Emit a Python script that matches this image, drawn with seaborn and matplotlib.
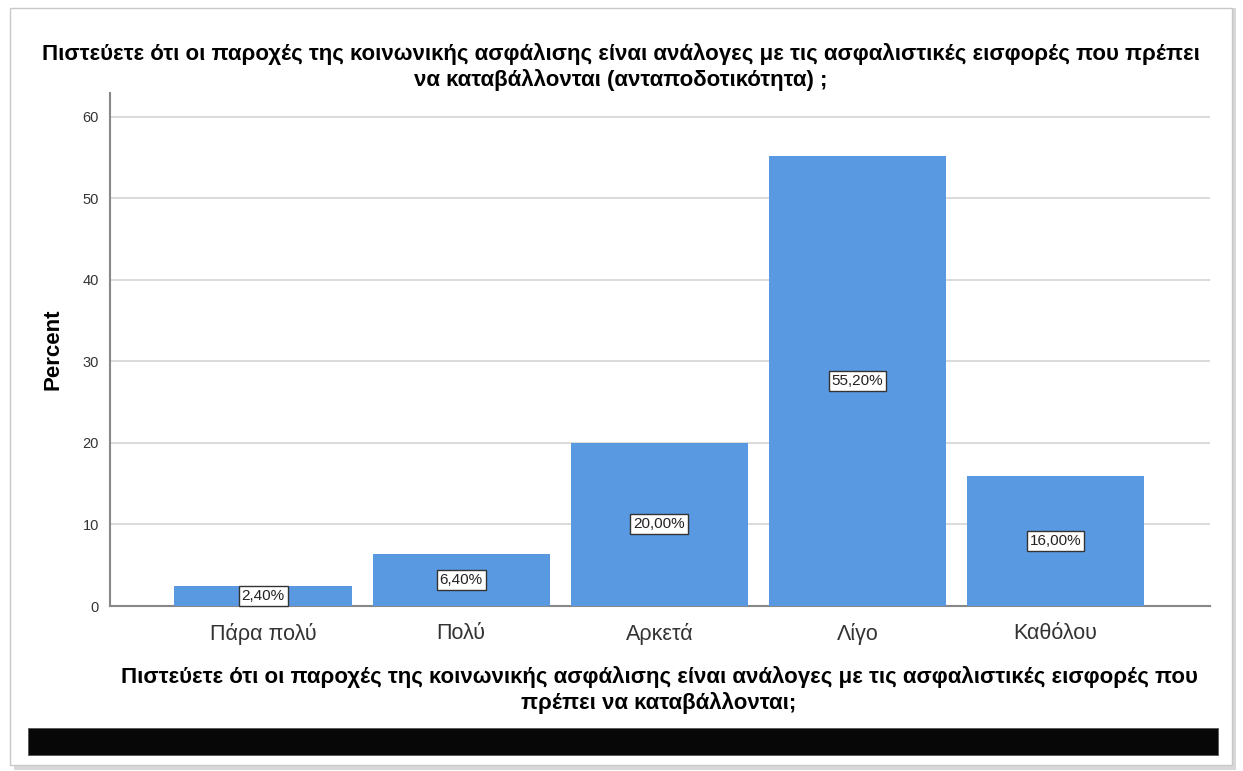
import matplotlib
matplotlib.use("Agg")
import matplotlib.pyplot as plt
import pandas as pd
import seaborn as sns
from matplotlib.patches import Rectangle

# data
categories = ["Πάρα πολύ", "Πολύ", "Αρκετά", "Λίγο", "Καθόλου"]
percents = [2.40, 6.40, 20.00, 55.20, 16.00]
y_ticks = [0, 10, 20, 30, 40, 50, 60]

title = ("Πιστεύετε ότι οι παροχές της κοινωνικής ασφάλισης είναι ανάλογες με τις ασφαλιστικές εισφορές που πρέπει\n"
         "να καταβάλλονται (ανταποδοτικότητα) ;")
x_label = ("Πιστεύετε ότι οι παροχές της κοινωνικής ασφάλισης είναι ανάλογες με τις ασφαλιστικές εισφορές που\n"
           "πρέπει να καταβάλλονται;")

df = pd.DataFrame({"category": categories, "percent": percents})

sns.set_theme(style="white")
plt.rcParams["font.family"] = ["Liberation Sans", "DejaVu Sans"]

W, H = 1243, 771
fig = plt.figure(figsize=(W / 100, H / 100), dpi=100)
fig.patch.set_facecolor("white")

# panel frame with a soft shadow
fig.patches.append(Rectangle((14 / W, 1 - 770 / H), 1222 / W, 762 / H, transform=fig.transFigure,
                             facecolor="#d8d8d8", edgecolor="none", zorder=-2))
fig.patches.append(Rectangle((10 / W, 1 - 765 / H), 1222 / W, 757 / H, transform=fig.transFigure,
                             facecolor="white", edgecolor="#c8c8c8", lw=1.0, zorder=-1))
# black strip at the bottom
fig.patches.append(Rectangle((28 / W, 1 - 755 / H), 1190 / W, 27 / H, transform=fig.transFigure,
                             facecolor="#070707", edgecolor="#555555", lw=0.6, zorder=1))

ax = fig.add_axes([110 / W, 1 - 606 / H, 1100 / W, 513 / H])
ax.set_zorder(2)
ax.set_facecolor("none")

sns.barplot(data=df, x="category", y="percent", color="#5899E2", saturation=1,
            width=0.895, linewidth=0, ax=ax, zorder=3)

ax.set_xlim(-0.773, 4.78)
ax.set_ylim(0, 62.9)
ax.set_yticks(y_ticks)
ax.set_yticklabels([str(t) for t in y_ticks], fontsize=10.5, color="#333333")
ax.tick_params(axis="y", length=0, pad=8)
ax.tick_params(axis="x", length=0, pad=12, labelsize=15.5, labelcolor="#333333")
ax.grid(axis="y", color="#d4d4d4", lw=1.2, zorder=0)
ax.set_axisbelow(True)

for side in ["top", "right"]:
    ax.spines[side].set_visible(False)
for side in ["left", "bottom"]:
    ax.spines[side].set_color("#888888")
    ax.spines[side].set_linewidth(1.5)

for i, p in enumerate(percents):
    ax.text(i, p / 2, f"{p:.2f}%".replace(".", ","), ha="center", va="center",
            fontsize=11, color="#222222", zorder=5,
            bbox=dict(boxstyle="square,pad=0.2", facecolor="white", edgecolor="#333333", lw=1.0))

ax.set_ylabel("Percent", fontsize=16, fontweight="bold", color="black", labelpad=14)
ax.set_xlabel("")

fig.text(621 / W, 1 - 67 / H, title, ha="center", va="center", fontsize=16,
         fontweight="bold", color="black", linespacing=1.2)
fig.text(659 / W, 1 - 690 / H, x_label, ha="center", va="center", fontsize=16,
         fontweight="bold", color="black", linespacing=1.2)

fig.savefig("out.png", dpi=100)
